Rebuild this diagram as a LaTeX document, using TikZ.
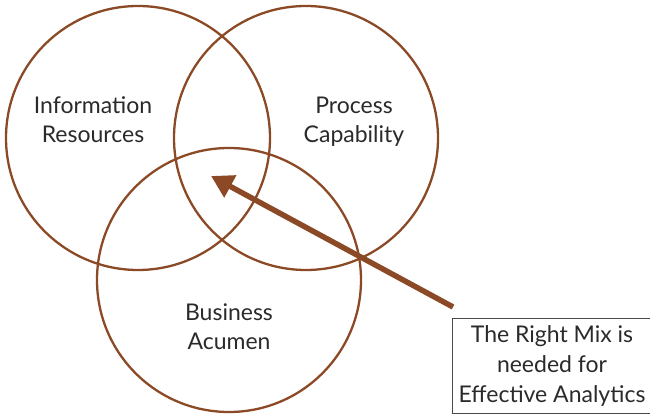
\documentclass[tikz,border=0pt]{standalone}
\usepackage{fontspec}
\setmainfont{Lato}
\usetikzlibrary{arrows.meta}
\definecolor{rim}{HTML}{8B4A25}
\definecolor{ink}{HTML}{2A2A2A}
\tikzset{
  ring/.style={circle, draw=rim, line width=2.3pt, minimum size=264pt, inner sep=0pt},
  label text/.style={text=ink, font=\fontsize{23}{29}\selectfont, align=center},
  pointer/.style={draw=rim, line width=5.5pt, -{Triangle[length=22pt, width=24pt]}},
  notebox/.style={draw=ink!85, line width=1pt, text=ink, font=\fontsize{23}{30}\selectfont, align=center, minimum width=200pt, minimum height=95pt, inner sep=0pt}
}
\begin{document}
\begin{tikzpicture}[x=1pt,y=1pt]
  \useasboundingbox (0,0) rectangle (650,414);
  % the three overlapping circles
  \node[ring] (info) at (138,276) {};
  \node[ring] (proc) at (306,276) {};
  \node[ring] (biz)  at (229,134) {};
  % circle captions
  \node[label text] (infotxt) at (93,294) {Information\\Resources};
  \node[label text] (proctxt) at (354,292) {Process\\Capability};
  \node[label text] (biztxt)  at (229,87) {Business\\Acumen};
  % callout box
  \node[notebox] (note) at (552,47.5) {The Right Mix is\\needed for\\Effective Analytics};
  % arrow into the common overlap
  \coordinate (tail) at (453,107);
  \coordinate (tip) at (211,238);
  \draw[pointer] (tail) -- (tip);
\end{tikzpicture}
\end{document}
